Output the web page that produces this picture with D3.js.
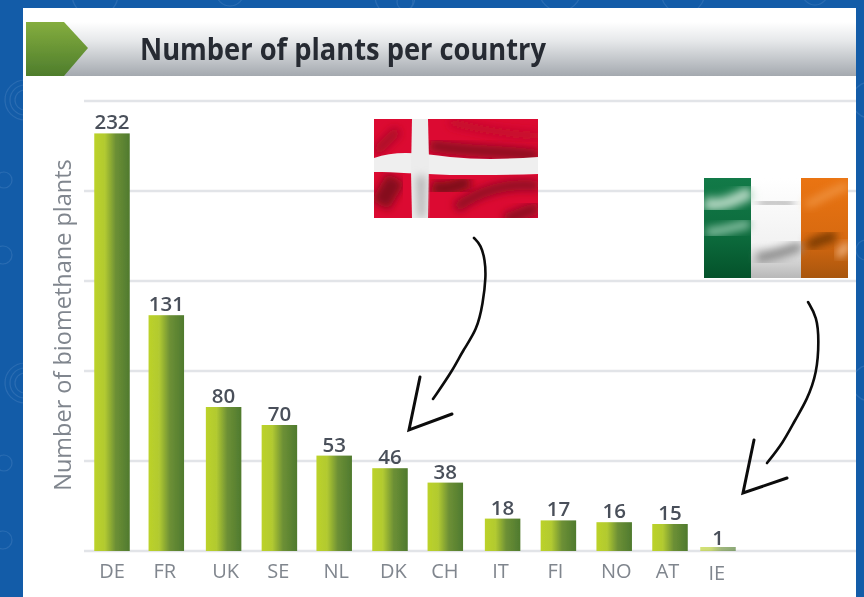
<!DOCTYPE html>
<html lang="en">
<head>
<meta charset="utf-8">
<title>Number of plants per country</title>
<script src="https://cdn.jsdelivr.net/npm/d3@7"></script>
<style>
html, body { margin: 0; padding: 0; background: #135ca8; }
svg { display: block; }
text { font-family: "Open Sans", sans-serif; }
</style>
</head>
<body>
<script>
// chart data
var countries = ["DE", "FR", "UK", "SE", "NL", "DK", "CH", "IT", "FI", "NO", "AT", "IE"];
var plants = [232, 131, 80, 70, 53, 46, 38, 18, 17, 16, 15, 1];
var gridTicks = [0, 50, 100, 150, 200, 250];

var w = 864, h = 597;

var svg = d3.select("body").append("svg").attr("width", w).attr("height", h);
var defs = svg.append("defs");

function gradient(id, stops, vertical) {
	var g = defs.append("linearGradient").attr("id", id)
		.attr("x1", 0).attr("y1", 0)
		.attr("x2", vertical ? 0 : 1).attr("y2", vertical ? 1 : 0);
	stops.forEach(function(s) {
		g.append("stop").attr("offset", s[0]).attr("stop-color", s[1]);
	});
}
gradient("barFill", [[0, "#bcd22a"], [0.3, "#b2ca30"], [0.6, "#6d9036"], [1, "#4f7a2e"]]);
gradient("bandFill", [[0, "#ffffff"], [0.35, "#e6e8ea"], [1, "#a4a9af"]], true);
gradient("tabFill", [[0, "#84ad3e"], [1, "#4e7d2c"]], true);

function blur(id, sd) {
	defs.append("filter").attr("id", id)
		.attr("x", "-40%").attr("y", "-40%").attr("width", "180%").attr("height", "180%")
		.append("feGaussianBlur").attr("stdDeviation", sd);
}
blur("soft", 0.55);
blur("fold", 4);

// faint line icons in the blue background
var iconRings = [
	[25, 100, 20], [25, 100, 15], [25, 100, 10],
	[25, 383, 20], [25, 383, 15], [25, 383, 10],
	[4, 180, 8], [4, 463, 8], [3, 255, 9], [3, 540, 9],
	[95, -6, 23], [230, -8, 14], [395, -4, 20], [405, 2, 8], [560, -10, 21],
	[683, -8, 22], [815, -8, 13], [870, 100, 18], [870, 383, 18], [866, 250, 10]
];
svg.selectAll("circle.icon").data(iconRings).enter().append("circle")
	.attr("class", "icon")
	.attr("cx", function(d) { return d[0]; })
	.attr("cy", function(d) { return d[1]; })
	.attr("r", function(d) { return d[2]; })
	.attr("fill", "none").attr("stroke", "#2a6cb2").attr("stroke-width", 1.2).attr("filter", "url(#soft)");

// white panel
svg.append("rect").attr("x", 23).attr("y", 8).attr("width", 833).attr("height", 589).attr("fill", "#fff");

// header band
var header = svg.append("g").attr("filter", "url(#soft)");
header.append("rect").attr("x", 26).attr("y", 22).attr("width", 830).attr("height", 54).attr("fill", "url(#bandFill)");
header.append("path").attr("d", "M26,22H64L88,48L64,76H26Z").attr("fill", "url(#tabFill)");
header.append("text").attr("x", 140).attr("y", 60)
	.attr("font-size", 30).attr("font-weight", 700).attr("fill", "#262b33")
	.attr("textLength", 406).attr("lengthAdjust", "spacingAndGlyphs")
	.text("Number of plants per country");

// scales
var x = d3.scalePoint().domain(countries).range([112, 725.8]);
var y = d3.scaleLinear().domain([0, 250]).range([551, 101]);
var barWidth = 35.5;
var minBarHeight = 4;

// the last bar sits a little closer than the regular step, tick labels wobble a bit
var barNudge = { FR: -1.5, NL: -1, DK: -1, CH: -1.5, IE: -7.8 };
var labelNudge = { FR: -3, UK: 2, SE: -1, NL: 1, DK: 2.5, CH: -2, IT: -2, FI: -3, NO: 2, AT: -2.5, IE: -9 };

var chart = svg.append("g").attr("filter", "url(#soft)");

// gridlines
chart.selectAll("line.grid").data(gridTicks).enter().append("line")
	.attr("class", "grid")
	.attr("x1", 84).attr("x2", 856)
	.attr("y1", function(d) { return y(d); })
	.attr("y2", function(d) { return y(d); })
	.attr("stroke", "#e2e4e8").attr("stroke-width", 2.5);

// bars
chart.selectAll("rect.bar").data(plants).enter().append("rect")
	.attr("class", "bar")
	.attr("x", function(d, i) { return x(countries[i]) + (barNudge[countries[i]] || 0) - barWidth / 2; })
	.attr("y", function(d) { return y(0) - Math.max(y(0) - y(d), minBarHeight); })
	.attr("width", barWidth)
	.attr("height", function(d) { return Math.max(y(0) - y(d), minBarHeight); })
	.attr("fill", "url(#barFill)")
	.attr("opacity", function(d) { return y(0) - y(d) < minBarHeight ? 0.65 : 1; });

// value labels
chart.selectAll("text.value").data(plants).enter().append("text")
	.attr("class", "value")
	.attr("x", function(d, i) { return x(countries[i]) + (barNudge[countries[i]] || 0); })
	.attr("y", function(d) { return y(d) - 4; })
	.attr("text-anchor", "middle")
	.attr("font-size", 20.5).attr("font-weight", 600).attr("fill", "#4a505a")
	.text(function(d) { return d; });

// country labels
chart.selectAll("text.country").data(countries).enter().append("text")
	.attr("class", "country")
	.attr("x", function(d) { return x(d) + (labelNudge[d] || 0); })
	.attr("y", function(d) { return d === "IE" ? 580 : 578; })
	.attr("text-anchor", "middle")
	.attr("font-size", 20).attr("fill", "#80868e")
	.text(function(d) { return d; });

// y axis title
chart.append("text")
	.attr("transform", "translate(71,325) rotate(-90)")
	.attr("text-anchor", "middle")
	.attr("font-size", 23.5).attr("fill", "#80868e")
	.text("Number of biomethane plants");

// flags
var dk = svg.append("g");
defs.append("clipPath").attr("id", "dkClip").append("rect")
	.attr("x", 374).attr("y", 119).attr("width", 164).attr("height", 99);
dk.attr("clip-path", "url(#dkClip)");
dk.append("rect").attr("x", 374).attr("y", 119).attr("width", 164).attr("height", 99).attr("fill", "#dc0a32");
// dark creases in the cloth: [path, colour, width]
[["M376,152L398,130", "#a80a26", 10],
 ["M380,205L396,178", "#840a1c", 20],
 ["M430,145C460,152 500,150 538,156", "#8a0a20", 12],
 ["M450,122C480,130 510,134 538,136", "#c00a2c", 8],
 ["M432,186C445,192 452,186 470,182", "#7c0818", 14],
 ["M456,208C480,190 510,182 538,186", "#8a0a20", 10],
 ["M505,220C520,214 530,210 538,208", "#8a0a20", 12]].forEach(function(f) {
	dk.append("path").attr("d", f[0]).attr("fill", "none")
		.attr("stroke", f[1]).attr("stroke-width", f[2]).attr("filter", "url(#fold)");
});
dk.append("path").attr("d", "M374,158C395,150 420,153 450,157C480,160 510,159 538,157V174C510,175 480,175 450,175C420,174 395,172 374,172Z").attr("fill", "#efefef");
dk.append("path").attr("d", "M412,119H428L429,160L428,218H412L411,170Z").attr("fill", "#ececec");
dk.append("path").attr("d", "M416,176L426,176L425,218H418Z").attr("fill", "#b4b4b4").attr("filter", "url(#fold)");

var ie = svg.append("g");
defs.append("clipPath").attr("id", "ieClip").append("rect")
	.attr("x", 704).attr("y", 178).attr("width", 144).attr("height", 100);
ie.attr("clip-path", "url(#ieClip)");
gradient("ieGreen", [[0, "#127a48"], [0.6, "#0c6a3c"], [1, "#04522a"]], true);
gradient("ieWhite", [[0, "#ffffff"], [0.65, "#f2f2f2"], [1, "#b8b8b8"]], true);
gradient("ieOrange", [[0, "#ea7412"], [0.6, "#d86a10"], [1, "#a8560e"]], true);
ie.append("rect").attr("x", 704).attr("y", 178).attr("width", 47).attr("height", 100).attr("fill", "url(#ieGreen)");
ie.append("rect").attr("x", 751).attr("y", 178).attr("width", 50).attr("height", 100).attr("fill", "url(#ieWhite)");
ie.append("rect").attr("x", 801).attr("y", 178).attr("width", 47).attr("height", 100).attr("fill", "url(#ieOrange)");
[["M704,203C720,208 735,200 751,192", "#b0d6c0", 13],
 ["M706,232C720,232 735,226 750,224", "#86c0a2", 9],
 ["M758,203C772,202 782,202 794,204", "#a0a0a0", 6],
 ["M757,258C775,256 790,250 801,246", "#8a8a8a", 10],
 ["M808,246C815,242 825,238 836,236", "#743806", 10],
 ["M838,256L848,244", "#f8c090", 7],
 ["M806,205C820,200 832,190 848,186", "#f29a48", 6]].forEach(function(f) {
	ie.append("path").attr("d", f[0]).attr("fill", "none")
		.attr("stroke", f[1]).attr("stroke-width", f[2]).attr("filter", "url(#fold)");
});

// hand drawn arrows
var stroke = d3.line().curve(d3.curveBasis);
var arrowStems = [
	[[474, 238], [474, 238], [481, 245], [485, 260], [486, 277], [483, 303], [477, 330], [463, 350], [453, 370], [433, 399], [433, 399]],
	[[808, 302], [808, 302], [817, 317], [819, 340], [817, 373], [807, 400], [795, 420], [783, 443], [767, 463], [767, 463]]
];
var arrowHeads = [
	[[420, 377], [409, 430], [452, 414]],
	[[754, 440], [743, 493], [787, 478]]
];
var arrows = svg.append("g").attr("fill", "none").attr("stroke", "#0c0c0c").attr("stroke-linecap", "round");
arrows.selectAll("path.stem").data(arrowStems).enter().append("path")
	.attr("class", "stem")
	.attr("d", stroke).attr("stroke-width", 2.6);
arrows.selectAll("path.head").data(arrowHeads).enter().append("path")
	.attr("class", "head")
	.attr("d", d3.line()).attr("stroke-width", 3).attr("stroke-linejoin", "miter");
</script>
</body>
</html>
